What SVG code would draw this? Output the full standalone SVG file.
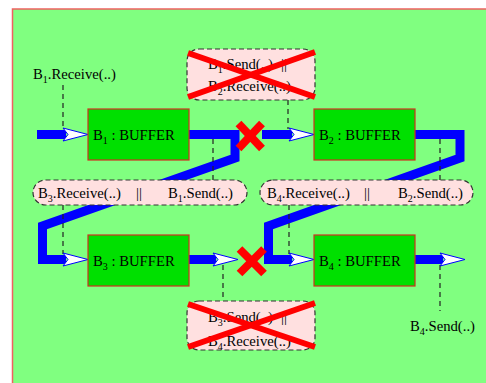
<svg xmlns="http://www.w3.org/2000/svg" xmlns:xlink="http://www.w3.org/1999/xlink" width="486" height="383" viewBox="0 0 486 383">
<style>
text{font-family:"Liberation Serif","Times New Roman",serif;font-size:14.7px;fill:#000}
.sub{font-size:10px}
.flow{fill:none;stroke:#0000FF;stroke-width:9;stroke-linejoin:miter}
.dash{fill:none;stroke:#222;stroke-width:1.2;stroke-dasharray:5,4}
.buf{fill:#00E000;stroke:#D03020;stroke-width:1.2}
.pill{fill:#FFE0E0;stroke:#333;stroke-width:1.2;stroke-dasharray:5,3}
.cross{stroke:#FF0000;stroke-width:6}
.x{stroke:#FF0000;stroke-width:8}
.ah{fill:#FFFFFF;stroke:#0000FF;stroke-width:1}
</style>
<defs>
<path id="ah" d="M0,0 L-25,-6.5 L-20,0 L-25,6.5 Z"/>
</defs>
<rect x="12.5" y="9" width="500" height="400" fill="#80FF80" stroke="#F06060" stroke-width="1.5"/>
<g id="connectors">
<path class="flow" d="M37 134.5 H66"/>
<path class="flow" d="M189 134.5 H235 V158 L42.5 226 V259.5 H66"/>
<path class="flow" d="M262 134.5 H292"/>
<path class="flow" d="M189 259.5 H216"/>
<path class="flow" d="M415 134.5 H460 V158 L268.5 226 V259.5 H292"/>
<path class="flow" d="M415 259.5 H443"/>
<path class="dash" d="M63 85 V129"/>
<path class="dash" d="M213 139 V180"/>
<path class="dash" d="M288 100 V129"/>
<path class="dash" d="M440 139 V180"/>
<path class="dash" d="M63 205 V254"/>
<path class="dash" d="M289 205 V254"/>
<path class="dash" d="M223 265 V301"/>
<path class="dash" d="M440 265 V311"/>
<use xlink:href="#ah" class="ah" x="88" y="134.5"/>
<use xlink:href="#ah" class="ah" x="314" y="134.5"/>
<use xlink:href="#ah" class="ah" x="88" y="259.5"/>
<use xlink:href="#ah" class="ah" x="238" y="259.5"/>
<use xlink:href="#ah" class="ah" x="314" y="259.5"/>
<use xlink:href="#ah" class="ah" x="465" y="259.5"/>
</g>
<g id="x1"><line class="x" x1="238.5" y1="123.5" x2="262" y2="148.5"/><line class="x" x1="262" y1="123.5" x2="238.5" y2="148.5"/></g>
<g id="x2"><line class="x" x1="239.5" y1="249" x2="264" y2="273.5"/><line class="x" x1="264" y1="249" x2="239.5" y2="273.5"/></g>
<g id="lbl-b1recv"><text x="33" y="79">B<tspan class="sub" dy="4">1</tspan><tspan dy="-4">.Receive(..)</tspan></text></g>
<g id="lbl-b4send"><text x="410" y="331">B<tspan class="sub" dy="4">4</tspan><tspan dy="-4">.Send(..)</tspan></text></g>
<g id="B1"><rect class="buf" x="88" y="109" width="101" height="51"/><text x="93" y="140">B<tspan class="sub" dy="4">1</tspan><tspan dy="-4"> : BUFFER</tspan></text></g>
<g id="B2"><rect class="buf" x="314" y="109" width="101" height="51"/><text x="319" y="140">B<tspan class="sub" dy="4">2</tspan><tspan dy="-4"> : BUFFER</tspan></text></g>
<g id="B3"><rect class="buf" x="88" y="235" width="101" height="51"/><text x="93" y="266">B<tspan class="sub" dy="4">3</tspan><tspan dy="-4"> : BUFFER</tspan></text></g>
<g id="B4"><rect class="buf" x="314" y="235" width="101" height="51"/><text x="319" y="266">B<tspan class="sub" dy="4">4</tspan><tspan dy="-4"> : BUFFER</tspan></text></g>
<g id="sync13"><rect class="pill" x="33" y="180" width="214" height="25" rx="12.5"/><text x="38" y="198">B<tspan class="sub" dy="4">3</tspan><tspan dy="-4">.Receive(..)</tspan></text><text x="136" y="198">||</text><text x="168" y="198">B<tspan class="sub" dy="4">1</tspan><tspan dy="-4">.Send(..)</tspan></text></g>
<g id="sync24"><rect class="pill" x="260" y="180" width="213" height="25" rx="12.5"/><text x="267" y="198">B<tspan class="sub" dy="4">4</tspan><tspan dy="-4">.Receive(..)</tspan></text><text x="364" y="198">||</text><text x="398" y="198">B<tspan class="sub" dy="4">2</tspan><tspan dy="-4">.Send(..)</tspan></text></g>
<g id="sync12"><rect class="pill" x="187" y="49" width="128" height="51" rx="12"/><text x="208" y="69">B<tspan class="sub" dy="4">1</tspan><tspan dy="-4">.Send(..)</tspan></text><text x="281" y="69">||</text><text x="208" y="91">B<tspan class="sub" dy="4">2</tspan><tspan dy="-4">.Receive(..)</tspan></text><line class="cross" x1="188" y1="53" x2="315" y2="97"/><line class="cross" x1="188" y1="97" x2="315" y2="52"/></g>
<g id="sync34"><rect class="pill" x="187" y="301" width="128" height="49" rx="12"/><text x="208" y="322">B<tspan class="sub" dy="4">3</tspan><tspan dy="-4">.Send(..)</tspan></text><text x="281" y="322">||</text><text x="208" y="346">B<tspan class="sub" dy="4">4</tspan><tspan dy="-4">.Receive(..)</tspan></text><line class="cross" x1="188" y1="304" x2="315" y2="347"/><line class="cross" x1="188" y1="347" x2="315" y2="303"/></g>
</svg>
